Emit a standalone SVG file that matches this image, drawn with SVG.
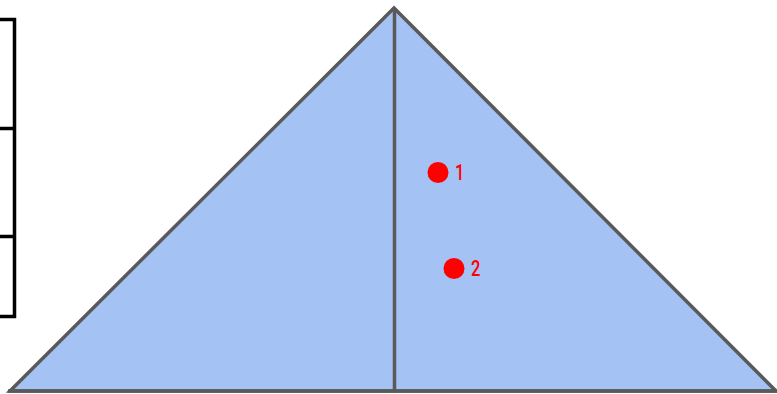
<svg xmlns="http://www.w3.org/2000/svg" width="777" height="394" viewBox="0 0 777 394">
<style>
.edge{stroke:#595959;stroke-width:3.5;fill:none;stroke-linejoin:miter}
.tri{fill:#a4c2f4;stroke:#595959;stroke-width:3.5;stroke-linejoin:miter}
.br{stroke:#000;stroke-width:3.5;fill:none}
.dot{fill:#ff0000}
.lbl{fill:#ff0000;font-family:Roboto,"Liberation Sans",sans-serif;font-size:22px;font-weight:500}
</style>
<rect width="777" height="394" fill="#ffffff"/>
<g id="bracket">
<path class="br" d="M0 19.5H14.5V316.5H0M0 128.5H14.5M0 236.5H14.5"/>
</g>
<g id="triangle">
<polygon class="tri" points="394,8 10,391 776,391"/>
</g>
<g id="connectors">
<line class="edge" x1="394.5" y1="8" x2="394.5" y2="391"/>
<line class="edge" x1="8" y1="391" x2="777" y2="391"/>
</g>
<g id="point1">
<circle class="dot" cx="438" cy="172.5" r="10.5"/>
<text class="lbl" x="455" y="180" transform="translate(455 0) scale(0.75 1) translate(-455 0)">1</text>
</g>
<g id="point2">
<circle class="dot" cx="454" cy="268.5" r="10.5"/>
<text class="lbl" x="471" y="276" transform="translate(471 0) scale(0.75 1) translate(-471 0)">2</text>
</g>
</svg>
